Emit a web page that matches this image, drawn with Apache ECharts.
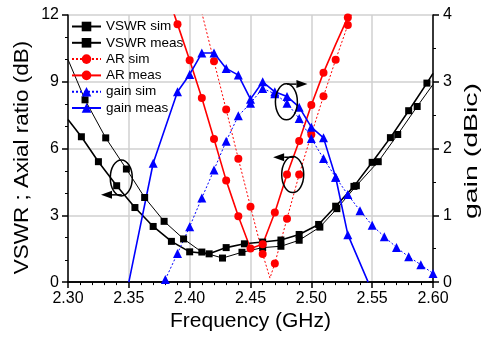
<!DOCTYPE html>
<html>
<head>
<meta charset="utf-8">
<script src="https://cdn.jsdelivr.net/npm/echarts@6/dist/echarts.min.js"></script>
<style>
html, body { margin: 0; padding: 0; background: #fff; }
#chart { width: 487px; height: 337px; }
</style>
</head>
<body>
<div id="chart"></div>
<script>
// VSWR (left axis)
const vswrSimFreq = [2.300, 2.314, 2.331, 2.348, 2.363, 2.379, 2.395, 2.410, 2.427, 2.443, 2.460, 2.475, 2.490, 2.507, 2.521, 2.537, 2.555, 2.571, 2.587, 2.600];
const vswrSimVal = [10.0, 8.19, 6.48, 5.08, 3.80, 2.73, 1.94, 1.35, 1.08, 1.34, 1.55, 1.61, 1.88, 2.47, 3.30, 4.33, 5.41, 6.63, 7.89, 8.88];
const vswrSimNoMark = [0, 19];

const vswrMeasFreq = [2.300, 2.311, 2.325, 2.340, 2.355, 2.370, 2.385, 2.400, 2.416, 2.430, 2.445, 2.460, 2.475, 2.490, 2.506, 2.520, 2.535, 2.550, 2.565, 2.580, 2.595, 2.600];
const vswrMeasVal = [7.30, 6.53, 5.41, 4.33, 3.35, 2.50, 1.83, 1.36, 1.27, 1.55, 1.72, 1.80, 1.89, 2.14, 2.59, 3.41, 4.30, 5.38, 6.49, 7.70, 8.94, 9.38];
const vswrMeasNoMark = [0, 21];

// axial ratio (left axis)
const arSimFreq = [2.410, 2.42, 2.43, 2.44, 2.45, 2.46, 2.466, 2.47, 2.48, 2.49, 2.50, 2.51, 2.52, 2.53, 2.535];
const arSimVal = [12.1, 9.92, 7.75, 5.54, 3.39, 1.26, 0.18, 0.84, 2.85, 4.83, 6.63, 8.35, 9.99, 11.55, 12.35];
const arSimNoMark = [0, 6, 14];

const arMeasFreq = [2.385, 2.39, 2.40, 2.41, 2.42, 2.43, 2.44, 2.45, 2.46, 2.47, 2.48, 2.49, 2.50, 2.51, 2.52, 2.53];
const arMeasVal = [12.4, 11.59, 9.97, 8.27, 6.43, 4.57, 2.96, 1.51, 1.70, 3.13, 4.83, 6.34, 7.96, 9.41, 10.68, 11.89];
const arMeasNoMark = [0, 14];

// gain (right axis)
const gainSimFreq = [2.38, 2.39, 2.40, 2.41, 2.42, 2.43, 2.44, 2.45, 2.46, 2.47, 2.48, 2.49, 2.50, 2.51, 2.52, 2.53, 2.54, 2.55, 2.56, 2.57, 2.58, 2.59, 2.60];
const gainSimVal = [0.04, 0.43, 0.83, 1.26, 1.68, 2.11, 2.49, 2.68, 2.90, 2.82, 2.68, 2.45, 2.15, 1.85, 1.57, 1.31, 1.07, 0.85, 0.68, 0.52, 0.38, 0.26, 0.13];
const gainSimNoMark = [];

const gainMeasFreq = [2.35, 2.37, 2.39, 2.40, 2.41, 2.42, 2.43, 2.44, 2.45, 2.46, 2.47, 2.48, 2.49, 2.50, 2.51, 2.52, 2.53, 2.5467];
const gainMeasVal = [0, 1.78, 2.85, 3.11, 3.43, 3.43, 3.20, 3.10, 2.74, 3.00, 2.85, 2.78, 2.62, 2.32, 2.16, 1.57, 0.71, 0];
const gainMeasNoMark = [0, 17];

const FONT = 'Liberation Sans, Arial, sans-serif';

function toData(freq, val, noMark) {
    return freq.map((f, i) => noMark.indexOf(i) >= 0
        ? { value: [f, val[i]], symbol: 'none' }
        : { value: [f, val[i]] });
}

function makeSerie(name, freq, val, noMark, color, dash, width, symbol, size, yIdx) {
    return {
        name: name,
        type: 'line',
        yAxisIndex: yIdx,
        data: toData(freq, val, noMark),
        symbol: symbol,
        symbolSize: size,
        showAllSymbol: true,
        lineStyle: { color: color, width: width, type: dash },
        itemStyle: { color: color },
        animation: false
    };
}

const chart = echarts.init(document.getElementById('chart'));

const series = [
    makeSerie('VSWR sim', vswrSimFreq, vswrSimVal, vswrSimNoMark, '#000', 'solid', 1, 'rect', 7, 0),
    makeSerie('VSWR meas', vswrMeasFreq, vswrMeasVal, vswrMeasNoMark, '#000', 'solid', 1.6, 'rect', 7, 0),
    makeSerie('AR sim', arSimFreq, arSimVal, arSimNoMark, '#ff0000', [2, 2], 1, 'circle', 8, 0),
    makeSerie('AR meas', arMeasFreq, arMeasVal, arMeasNoMark, '#ff0000', 'solid', 1.6, 'circle', 8, 0),
    makeSerie('gain sim', gainSimFreq, gainSimVal, gainSimNoMark, '#0000ff', [2, 2], 1, 'triangle', 9, 1),
    makeSerie('gain meas', gainMeasFreq, gainMeasVal, gainMeasNoMark, '#0000ff', 'solid', 1.6, 'triangle', 9, 1)
];

const axisLine = { show: true, lineStyle: { color: '#000', width: 1.5 } };
const gridLine = { show: true, lineStyle: { color: '#d0d0d0', width: 1.5 } };

chart.setOption({
    backgroundColor: '#fff',
    textStyle: { fontFamily: FONT },
    grid: { left: 68, right: 54, top: 15, bottom: 51 },
    legend: {
        orient: 'vertical',
        left: 71,
        top: 19.5,
        padding: 0,
        itemWidth: 29,
        itemHeight: 12,
        itemGap: 2.3,
        textStyle: { fontFamily: FONT, fontSize: 13.5, color: '#000' },
        data: series.map(s => s.name)
    },
    xAxis: [{
        type: 'value',
        min: 2.30,
        max: 2.60,
        interval: 0.05,
        name: 'Frequency (GHz)',
        nameLocation: 'middle',
        nameGap: 26,
        nameTextStyle: { fontSize: 21, color: '#000', fontFamily: FONT },
        axisLine: axisLine,
        axisTick: { show: true, inside: false, length: 6, lineStyle: { color: '#000', width: 1.5 } },
        minorTick: { show: true, splitNumber: 5, length: 3, lineStyle: { color: '#000', width: 1 } },
        axisLabel: { fontSize: 16, color: '#000', margin: 8, formatter: v => v.toFixed(2) },
        splitLine: gridLine
    }, {
        type: 'value',
        position: 'top',
        min: 2.30,
        max: 2.60,
        axisLine: axisLine,
        axisTick: { show: false },
        axisLabel: { show: false },
        splitLine: { show: false }
    }],
    yAxis: [{
        type: 'value',
        min: 0,
        max: 12,
        interval: 3,
        axisLine: axisLine,
        axisTick: { show: true, length: 6, lineStyle: { color: '#000', width: 1.5 } },
        minorTick: { show: true, splitNumber: 3, length: 3, lineStyle: { color: '#000', width: 1 } },
        axisLabel: { fontSize: 16, color: '#000', margin: 9 },
        splitLine: gridLine
    }, {
        type: 'value',
        position: 'right',
        min: 0,
        max: 4,
        interval: 1,
        axisLine: axisLine,
        axisTick: { show: true, length: 6, lineStyle: { color: '#000', width: 1.5 } },
        minorTick: { show: true, splitNumber: 2, length: 3, lineStyle: { color: '#000', width: 1 } },
        axisLabel: { fontSize: 16, color: '#000', margin: 10 },
        splitLine: { show: false }
    }],
    series: series
});

// ellipses + arrows that point curves to their axis
const ellipses = [
    { x: 2.3438, y: 4.68, yIdx: 0 },
    { x: 2.4795, y: 2.70, yIdx: 1 },
    { x: 2.4847, y: 4.83, yIdx: 0 }
];
const arrows = [
    { from: [2.3442, 3.92], to: [2.3271, 3.92], yIdx: 0 },
    { from: [2.4801, 2.965], to: [2.4968, 2.965], yIdx: 1 },
    { from: [2.4855, 5.61], to: [2.4686, 5.61], yIdx: 0 }
];

function px(pt, yIdx) {
    return chart.convertToPixel({ xAxisIndex: 0, yAxisIndex: yIdx }, pt);
}

const graphics = [];
ellipses.forEach(e => {
    const c = px([e.x, e.y], e.yIdx);
    graphics.push({
        type: 'ellipse',
        shape: { cx: c[0], cy: c[1], rx: 11, ry: 18 },
        style: { fill: 'none', stroke: '#000', lineWidth: 1.5 },
        z: 100
    });
});
arrows.forEach(a => {
    const p0 = px(a.from, a.yIdx);
    const p1 = px(a.to, a.yIdx);
    const dir = p1[0] > p0[0] ? 1 : -1;
    const headLen = 11, half = 4;
    const base = p1[0] - dir * headLen;
    graphics.push({
        type: 'line',
        shape: { x1: p0[0], y1: p0[1], x2: base, y2: p1[1] },
        style: { stroke: '#000', lineWidth: 1.5 },
        z: 100
    });
    graphics.push({
        type: 'polygon',
        shape: { points: [[p1[0], p1[1]], [base, p1[1] - half], [base, p1[1] + half]] },
        style: { fill: '#000' },
        z: 100
    });
});

// vertical axis titles (the reference draws them a bit stretched)
graphics.push({
    type: 'text',
    x: 22,
    y: 157.5,
    rotation: Math.PI / 2,
    scaleX: 1.07,
    style: {
        text: 'VSWR ; Axial ratio (dB)',
        font: '21px ' + FONT,
        fill: '#000',
        align: 'center',
        verticalAlign: 'middle',
        textAlign: 'center',
        textVerticalAlign: 'middle'
    }
});
graphics.push({
    type: 'text',
    x: 471.5,
    y: 151,
    rotation: Math.PI / 2,
    scaleX: 1.5,
    style: {
        text: 'gain (dBic)',
        font: '19px ' + FONT,
        fill: '#000',
        align: 'center',
        verticalAlign: 'middle',
        textAlign: 'center',
        textVerticalAlign: 'middle'
    }
});
chart.setOption({ graphic: graphics });
</script>
</body>
</html>
